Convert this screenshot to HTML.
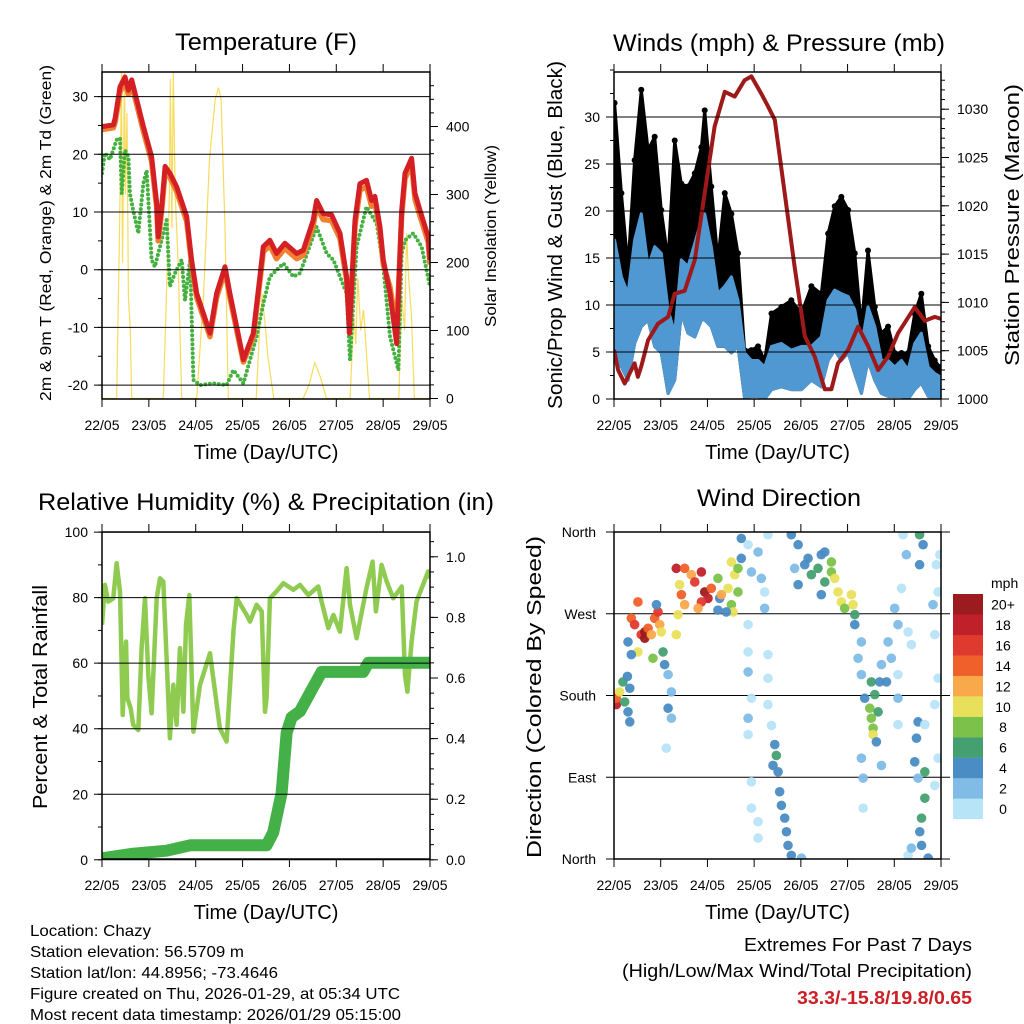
<!DOCTYPE html>
<html><head><meta charset="utf-8"><title>Chazy station summary</title>
<style>
html,body{margin:0;padding:0;background:#fff;}
svg{display:block;font-family:"Liberation Sans",Arial,sans-serif;}
</style></head>
<body>
<svg id="fig" width="1024" height="1024" viewBox="0 0 1024 1024" xmlns="http://www.w3.org/2000/svg">
<defs>
<clipPath id="c1"><rect x="102" y="72" width="328" height="327"/></clipPath>
<clipPath id="c2"><rect x="614" y="72" width="327" height="327"/></clipPath>
<clipPath id="c3"><rect x="102" y="532" width="328" height="327"/></clipPath>
<clipPath id="c4"><rect x="614" y="532" width="327" height="327"/></clipPath>
</defs>
<g id="layer"></g>
</svg>
<script>
// ---- Temperature panel data (hours since 22/05 00 UTC) ----
var tempTime=[0,5.8,6.7,9.2,11.8,13.5,15.2,17.8,21.2,25.4,28,28.8,30.6,32.3,34.8,38.2,43.4,45.9,48.5,55.3,58.7,63,65.5,72.4,77.5,80.9,82.6,86,89.4,93.7,99.7,103.1,108.2,109.9,113.3,117.6,121.9,125.3,126.7,129.6,132.1,135.5,138.1,139.8,142.4,144.1,147.5,150.9,153.5,155.2,158.6,160.3,162.9,167.1,168];
var temp2m=[24.8,25.1,26.2,31.7,33.4,31.1,32.9,29.4,24.8,19.6,11.5,5.7,10.9,17.9,16.7,14.4,9.2,1.7,-4.1,-11,-4.1,0.5,-4.1,-15.6,-11,-1.2,4,5.1,2.8,4.6,2.8,3.4,8.6,12,9.7,9.5,6.3,-1.2,-11,8.6,14.9,15.5,12,12.7,7.4,1.7,-4.1,-12.8,10.3,16.7,19.3,13.2,10.3,5.7,1.7];
var temp9m=[24.3,24.6,25.5,30.8,32.6,30.4,32.0,28.6,24.0,18.8,10.8,5.0,10.2,17.0,16.0,13.6,8.4,1.0,-4.8,-11.6,-4.8,-0.2,-4.8,-16.0,-11.6,-2.0,3.1,4.2,1.9,3.7,1.9,2.5,7.6,11.0,8.7,8.5,5.4,-1.8,-9.5,7.6,13.8,14.4,11.0,11.8,6.5,0.9,-3.0,-10.5,9.4,15.8,18.4,12.2,9.3,4.8,0.9];
var dewTime=[0,1.5,4.1,7.5,9.2,10.1,11.8,13.5,14.3,16,18.6,21.2,22.9,25.4,27.1,29.7,33.1,34.8,37.4,40.8,42.5,45.1,46.8,50.2,57,63.8,67.3,72.4,79.2,82.6,86,92.9,98,101.4,109.9,115.1,118.5,125.3,127,130.4,135.5,140.7,144.1,147.5,151.8,153.5,155.2,159.4,163.7,168];
var dewVal=[16.7,20.2,19.1,22.5,22.8,13.2,20.7,19.6,13.2,10.3,6.3,15,17.2,1.7,0.5,4,8.6,-2.9,-0.6,1.7,-5.3,1.7,-19.1,-20,-19.7,-20,-17.4,-19.7,-11.6,-5.9,-1.2,1.1,-1.2,-0.6,7.4,2.8,1.7,-4.1,-15.6,4,10.9,8,0.5,-11.6,-17.4,2.8,5.1,6.3,4,-2.9];
var solarTime=[0,7.5,9,10,10.5,11.5,12,12.8,13.5,14.5,15.2,31.4,33,34.5,35,35.8,36.5,37.5,39,40.8,48.5,52,55,58,59.6,61,63,64.7,79,80.5,82,83.5,85,88,103,106,109,112,115,127,129,130,131,132.5,134,137,152,153.5,155,156,157,158.5,160,168];
var solarVal=[0,0,250,480,200,480,300,420,150,100,0,0,150,300,470,250,480,300,200,0,0,150,350,440,457,440,250,0,0,90,154,110,60,0,0,20,53,30,0,0,120,80,178,100,130,0,0,150,100,243,180,120,0,0];
// ---- Winds panel data ----
var windTime=[0.3,3.8,7.2,10.6,14,17.5,20.9,24.3,27.8,31.2,34.6,38,41.5,44.9,46.6,50,53.4,56.9,60.3,63.7,67.1,70.6,74,77.4,80.9,86,91.1,96.3,101.4,106.5,110,113.4,116.8,120.3,123.7,127.1,130.5,134,137.4,140.8,144.2,147.7,151.1,154.5,157.9,161.4,164.8,167.4];
var windLo=[4.1,3.4,2,5.9,7.7,8.4,5.6,4.9,0.6,2,9.1,7,6.6,8.4,8.4,7.7,5.6,5.6,4.9,5.6,0.1,0.3,0.3,0,1,1.3,1,1,2,1.3,4.1,5.2,4.1,4.9,2.7,0.6,4.1,2,0.6,0.3,0.3,0.3,0,1,1.7,0.3,0,0];
var windHi=[16.9,13,11.2,16.9,19.7,14.1,16.2,15.5,9.5,7,14.8,14.1,16.6,19,19.7,16.2,11.2,12,13,10.5,4.9,4.1,4.1,3.4,5.6,5.9,5.2,5.6,5.6,6.6,10.5,11.6,11.2,10.9,9.5,5.6,9.8,7.7,4.1,4.1,3.4,4.1,3.1,5.9,7,3.4,2.7,2.4];
var gustHi=[31.5,21.9,14.1,25.4,32.9,26.5,27.9,20.1,14.8,27.5,22.9,22.6,24,26.8,30.7,22.6,14.8,21.9,19.7,15.5,5.2,5.2,5.6,4.1,9.1,9.8,10.5,9.1,12,11.2,17.6,20.5,21.5,20.1,15.5,7.7,15.8,9.8,7,7.7,4.9,4.9,4.9,9.1,11.2,5.6,4.1,3.4];
var presTime=[0,2.1,5.5,8.9,10.6,12.3,14,17.5,22.6,27.8,31.2,36.3,41.5,46.6,51.7,56.9,62,67.1,70.6,75.7,79.1,82.6,87.7,92.8,98,103.1,108.3,111.7,115.1,120.3,125.4,130.5,135.7,140.8,145.9,154.5,159.7,164.8,168];
var presVal=[1005.1,1003,1001.6,1003,1003.7,1002.3,1003.4,1006.1,1007.8,1008.5,1010.9,1011.2,1014.4,1021.3,1028.2,1031.8,1031.3,1033,1033.4,1031.6,1030.3,1028.9,1021.3,1013.7,1006.5,1004.4,1001,1001,1003.7,1005.1,1007.5,1005.5,1003,1004.4,1006.8,1009.5,1008.1,1008.5,1008.3];
// ---- RH / precipitation data ----
var rhTime=[0,1.5,3.2,5.8,7.5,9.2,10.6,12.3,13,14.7,16,18.6,20.3,22,23.7,25.4,28,29.7,31.4,33.1,34.8,36.5,38.2,39.9,41.7,43,44.7,46.8,50.2,55.3,60.4,63.8,67.3,69,74.1,75.8,79.2,81.8,83.5,84.3,86,89.4,92.9,98,101.4,105.7,110.8,112.5,115.9,118.5,121.9,125.3,127,130.4,135.5,138.6,140.3,143.2,145.8,149.2,153.5,155.2,156.4,158.6,161.1,167.1,168];
var rhVal=[71.7,83.9,78.8,79.8,90.5,81.9,44.2,66.6,49.3,46.2,41.2,39.6,64.6,79.8,56.4,44.7,79.8,85.9,84.9,61.5,37.1,53.4,41.2,64.6,45.2,71.7,80.8,39.1,53.4,63,40.1,36.1,69.6,79.8,74.7,72.7,77.8,75.8,45.2,49.3,79.8,81.9,84.4,82.4,83.9,80.8,83.4,78.8,70.7,74.7,69.6,89,77.8,67.6,82.9,91,75.8,90,84.9,79.8,83.4,56.4,51.3,66.6,78.8,88,85.9];
var rainTime=[0,16,33.1,45.1,84.3,87.7,92,94.6,97.1,101.4,106.5,112.5,115.1,133.8,136.4,168];
var rainVal=[0.005,0.02,0.03,0.048,0.048,0.09,0.22,0.42,0.47,0.49,0.55,0.62,0.62,0.62,0.65,0.65];
// ---- Wind direction data: time (h), direction (deg), speed (mph) ----
var dirTime=[1.2,1.2,2.9,4.6,5.5,7.2,8.1,8.1,6.9,8.9,10.6,12.3,14,15.8,15.8,17.5,19.2,20.9,22.6,23.5,24.3,12.3,20,25.2,7.2,21.8,8.9,26,27.8,29.5,27.8,29.5,26.9,32,36.3,33.7,34.6,36.3,32.9,32,39.7,41.5,44.9,46.6,48.3,44.9,43.2,50,53.4,54.3,55.2,58.6,60.3,62,60.3,63.7,63.7,61.2,57.7,53.4,65.4,65.4,68.9,70.6,74,75.7,79.1,77.4,68.9,68.9,68.9,70.6,68.9,68.9,70.6,70.6,74,79.1,79.1,79.1,80.9,77.4,74,82.6,83.4,84.3,85.1,86,87.7,88.6,89.4,91.1,96.3,81.7,91.1,94.6,92.8,98,99.7,101.4,104.8,106.5,108.3,108.3,111.7,111.7,113.4,106.5,94.6,115.1,116.8,118.5,122,122.8,123.7,123.7,127.1,125.4,127.1,128.8,132.2,134,131.4,132.2,133.1,133.1,134.8,135.7,136.5,137.4,140,142.5,144.2,140.8,145.9,127.1,128,128,137.4,145.9,145.9,148.5,150.2,157,158.8,157,147.7,151.1,152.8,156.2,155.4,154.5,156.2,159.7,159.7,158,157.1,158,161.4,164.8,166.5,164.8,166.5,164.8,166.5,165.6,167.4,163.9,151.1,159.7,145.9,152.8];
var dirDeg=[170,177,184,195,173,162,151,188,201,265,258,283,247,243,250,254,247,265,272,258,250,228,221,228,239,280,225,214,203,184,166,155,122,320,320,302,291,280,269,247,313,305,316,294,287,283,276,298,309,287,291,298,280,313,327,320,294,272,272,274,353,331,346,316,338,309,357,276,258,228,206,177,155,137,85,56,41,225,199,170,147,294,23,126,114,96,74,59,45,30,15,4,1,103,357,346,320,324,331,313,320,335,305,338,327,316,309,291,302,294,283,276,291,280,269,258,239,221,203,177,195,181,166,155,144,137,129,162,195,214,195,221,276,239,258,111,89,56,103,203,177,357,335,357,346,324,298,250,236,151,133,107,89,96,67,45,30,15,1,81,111,170,199,247,294,324,335,280,4,148,148,12];
var dirSpeed=[18,14,10,6,6,4,4,4,4,14,16,14,16,20,20,14,12,14,16,12,10,10,8,6,4,4,4,4,2,2,4,2,1,18,14,10,14,12,10,10,12,16,18,20,18,16,12,14,8,4,12,10,8,10,10,8,8,10,4,4,4,4,1,2,2,2,1,2,1,1,2,1,2,1,1,1,1,1,1,1,1,1,1,4,6,4,4,4,4,4,4,4,2,4,4,4,2,4,4,6,6,4,6,4,8,8,10,4,4,10,10,8,10,10,6,4,2,2,2,4,6,6,8,8,8,10,4,6,4,2,4,2,2,2,2,2,2,1,2,1,2,1,2,6,4,4,1,1,1,4,4,4,2,6,6,6,4,4,4,1,1,1,1,1,1,1,1,2,1,1,1,2];
var speedColors=["#b8e4f8","#80bce6","#4a8cc4","#44a070","#7cc24a","#e8e05a","#f9a84a","#f0602a","#e03a2e","#c0202a","#9b1b1e"];
var speedLabels=["0","2","4","6","8","10","12","14","16","18","20+"];
var dayLabels=["22/05","23/05","24/05","25/05","26/05","27/05","28/05","29/05"];

var NS="http://www.w3.org/2000/svg";
var layer=document.getElementById("layer");
function mk(tag,attrs,parent){var e=document.createElementNS(NS,tag);for(var k in attrs){e.setAttribute(k,attrs[k]);}(parent||layer).appendChild(e);return e;}
function txt(s,x,y,size,anchor,extra){var e=mk("text",{x:x,y:y,"font-size":size,"text-anchor":anchor||"start",fill:"#000"});if(extra){for(var k in extra)e.setAttribute(k,extra[k]);}e.textContent=s;return e;}

function P(x0,x1,y0,y1){return {x0:x0,x1:x1,y0:y0,y1:y1,sx:function(t){return x0+t/168*(x1-x0);}};}
var p1=P(102,430,72,399),p2=P(614,941,72,399),p3=P(102,430,532,859),p4=P(614,941,532,859);
function yTemp(v){return 269.7-v*5.77;}
function ySolar(v){return 398.5-v*0.68;}
function yWind(v){return 399-v*9.4;}
function yPres(v){return 399-(v-1000)*9.66;}
function yRH(v){return 859.8-v*3.277;}
function yRain(v){return 859.8-v*303;}
function yDir(v){return 859-v*0.9083;}

function pts(p,ts,vs,fy){var a=[];for(var i=0;i<ts.length;i++)a.push(p.sx(ts[i]).toFixed(1)+","+fy(vs[i]).toFixed(1));return a.join(" ");}

function frame(p,nm){
  var g=mk("g",{});
  
  
  mk("rect",{x:p.x0,y:p.y0,width:p.x1-p.x0,height:p.y1-p.y0,fill:"none",stroke:"#000","stroke-width":1.5},g);
  for(var d=0;d<=7;d++){
    var x=p.sx(d*24);
    mk("line",{x1:x,x2:x,y1:p.y0,y2:p.y0-8,stroke:"#000","stroke-width":1},g);
    mk("line",{x1:x,x2:x,y1:p.y1,y2:p.y1+8,stroke:"#000","stroke-width":1},g);
    var t=txt(dayLabels[d],x,p.y1+31,14,"middle");
    
    
  }
  var tt=txt("Time (Day/UTC)",(p.x0+p.x1)/2,p.y1+60,20,"middle");
  
  
}
function leftAxis(p,vals,labels,fy,minor,grid){
  for(var i=0;i<vals.length;i++){
    var y=fy(vals[i]);
    if(grid){var gl=mk("line",{x1:p.x0-8,x2:p.x1,y1:y,y2:y,stroke:"#000","stroke-width":1});}
    else mk("line",{x1:p.x0-8,x2:p.x0,y1:y,y2:y,stroke:"#000"});
    var t=txt(labels[i],p.x0-14,y+5,14,"end");
    
    
  }
  for(var j=0;j<minor.length;j++){var yy=fy(minor[j]);mk("line",{x1:p.x0-4,x2:p.x0,y1:yy,y2:yy,stroke:"#000"});}
}
function rightAxis(p,vals,labels,fy,minor){
  for(var i=0;i<vals.length;i++){
    var y=fy(vals[i]);
    mk("line",{x1:p.x1,x2:p.x1+8,y1:y,y2:y,stroke:"#000"});
    var t=txt(labels[i],p.x1+16,y+5,14,"start");
    
    
  }
  for(var j=0;j<minor.length;j++){var yy=fy(minor[j]);mk("line",{x1:p.x1,x2:p.x1+4,y1:yy,y2:yy,stroke:"#000"});}
}
function vtitle(s,x,yc,len,size,nm){
  var t=txt(s,0,0,size,"middle",{transform:"translate("+x+","+yc+") rotate(-90)",textLength:len,lengthAdjust:"spacingAndGlyphs"});
  
  
}
function title(s,xc,y,len,nm){
  var t=txt(s,xc,y,24,"middle",{textLength:len,lengthAdjust:"spacingAndGlyphs"});
  
  
}
function range(a,b,s){var r=[];for(var v=a;v<=b+1e-9;v+=s)r.push(+v.toFixed(4));return r;}

// ================= Panel 1: Temperature =================
title("Temperature (F)",266,50,182,"temperature-title");
var g1=mk("g",{"clip-path":"url(#c1)"});


var sl=mk("polyline",{points:pts(p1,solarTime,solarVal,ySolar),fill:"none",stroke:"#f7dc5c","stroke-width":1.2},g1);


var dl=mk("polyline",{points:pts(p1,dewTime,dewVal,yTemp),fill:"none",stroke:"#44b040","stroke-width":4,"stroke-linecap":"round","stroke-dasharray":"0 4.5"},g1);


var ol=mk("polyline",{points:pts(p1,tempTime,temp9m,yTemp),fill:"none",stroke:"#f08030","stroke-width":5.5,"stroke-linejoin":"round"},g1);


var rl=mk("polyline",{points:pts(p1,tempTime,temp2m,yTemp),fill:"none",stroke:"#d42024","stroke-width":5,"stroke-linejoin":"round"},g1);


leftAxis(p1,[-20,-10,0,10,20,30],["-20","-10","0","10","20","30"],yTemp,range(-20,30,5),true);
rightAxis(p1,[0,100,200,300,400],["0","100","200","300","400"],ySolar,range(0,460,20));
frame(p1,"temperature");
vtitle("2m & 9m T (Red, Orange) & 2m Td (Green)",51,233,336,16,"temperature-y-title");
vtitle("Solar Insolation (Yellow)",496,236,182,16,"solar-y-title");

// ================= Panel 2: Winds & Pressure =================
title("Winds (mph) & Pressure (mb)",779,51,332,"winds-title");
var g2=mk("g",{"clip-path":"url(#c2)"});


leftAxis(p2,[0,5,10,15,20,25,30],["0","5","10","15","20","25","30"],yWind,range(0,35,2.5),true);
var gTop=[],gBot=[];
for(var i=0;i<windTime.length;i++){gTop.push(p2.sx(windTime[i]).toFixed(1)+","+yWind(gustHi[i]).toFixed(1));gBot.unshift(p2.sx(windTime[i]).toFixed(1)+","+yWind(windLo[i]).toFixed(1));}
var gb=mk("polygon",{points:gTop.concat(gBot).join(" "),fill:"#000",stroke:"#000","stroke-width":3,"stroke-linejoin":"round"},g2);


for(var i=0;i<windTime.length;i++){
  var c=mk("circle",{cx:p2.sx(windTime[i]),cy:yWind(gustHi[i]),r:3,fill:"#000"},g2);
  
  
}
var wTop=[],wBot=[];
for(var i=0;i<windTime.length;i++){wTop.push(p2.sx(windTime[i]).toFixed(1)+","+yWind(windHi[i]).toFixed(1));wBot.unshift(p2.sx(windTime[i]).toFixed(1)+","+yWind(windLo[i]).toFixed(1));}
var wb=mk("polygon",{points:wTop.concat(wBot).join(" "),fill:"#4f98d2",stroke:"#4f98d2","stroke-width":3,"stroke-linejoin":"round"},g2);


var pl=mk("polyline",{points:pts(p2,presTime,presVal,yPres),fill:"none",stroke:"#9e1a1a","stroke-width":4,"stroke-linejoin":"round"},g2);


rightAxis(p2,[1000,1005,1010,1015,1020,1025,1030],["1000","1005","1010","1015","1020","1025","1030"],yPres,range(1000,1033,1));
frame(p2,"winds");
vtitle("Sonic/Prop Wind & Gust (Blue, Black)",562,235,348,20,"winds-y-title");
vtitle("Station Pressure (Maroon)",1019,225,282,20,"pressure-y-title");

// ================= Panel 3: RH & Precip =================
title("Relative Humidity (%) & Precipitation (in)",266,510,456,"humidity-title");
var g3=mk("g",{"clip-path":"url(#c3)"});


leftAxis(p3,[0,20,40,60,80,100],["0","20","40","60","80","100"],yRH,range(0,100,10),true);
var hl=mk("polyline",{points:pts(p3,rhTime,rhVal,yRH),fill:"none",stroke:"#8fcb50","stroke-width":4.5,"stroke-linejoin":"round"},g3);


var pr=mk("polyline",{points:pts(p3,rainTime,rainVal,yRain),fill:"none",stroke:"#44b048","stroke-width":12,"stroke-linejoin":"round","stroke-linecap":"round"},g3);


rightAxis(p3,[0,0.2,0.4,0.6,0.8,1.0],["0.0","0.2","0.4","0.6","0.8","1.0"],yRain,range(0,1.05,0.05));
frame(p3,"humidity");
vtitle("Percent & Total Rainfall",47,697,224,20,"humidity-y-title");

// ================= Panel 4: Wind Direction =================
title("Wind Direction",779,506,164,"wind-direction-title");
var dirVals=[0,90,180,270,360],dirNames=["North","East","South","West","North"];
for(var i=0;i<dirVals.length;i++){
  var y=yDir(dirVals[i]);
  var gl=mk("line",{x1:606,x2:950,y1:y,y2:y,stroke:"#000","stroke-width":1});
  
  
  var t=txt(dirNames[i],596,y+5,14,"end");
  
  
}
var g4=mk("g",{"clip-path":"url(#c4)"});


for(var i=0;i<dirTime.length;i++){
  var bin=Math.min(10,Math.floor(dirSpeed[i]/2));
  var c=mk("circle",{cx:p4.sx(dirTime[i]),cy:yDir(dirDeg[i]),r:4.8,fill:speedColors[bin],"fill-opacity":0.95},g4);
  
  
}
frame(p4,"wind-direction");
vtitle("Direction (Colored By Speed)",541,697,322,20,"direction-y-title");
var cb=mk("g",{});


var mph=txt("mph",991,588,14,"start");


for(var k=0;k<11;k++){
  var y0=594+(10-k)*20.45;
  var r=mk("rect",{x:953,y:y0,width:30,height:20.6,fill:speedColors[k]},cb);
  
  
  var t=txt(speedLabels[k],1003,y0+15.5,14,"middle");
  
  
}

// ================= Footer text =================
var info=["Location: Chazy","Station elevation: 56.5709 m","Station lat/lon: 44.8956; -73.4646","Figure created on Thu, 2026-01-29, at 05:34 UTC","Most recent data timestamp: 2026/01/29 05:15:00"];
var infoLen=[121,214,248,370,371];
var infoY=[936,957,978,999,1020];
for(var i=0;i<info.length;i++){
  var t=txt(info[i],30,infoY[i],16,"start",{textLength:infoLen[i],lengthAdjust:"spacingAndGlyphs"});
  
  
}
var e1=txt("Extremes For Past 7 Days",972,951,18,"end",{textLength:228,lengthAdjust:"spacingAndGlyphs"});


var e2=txt("(High/Low/Max Wind/Total Precipitation)",972,977,18,"end",{textLength:350,lengthAdjust:"spacingAndGlyphs"});


var e3=txt("33.3/-15.8/19.8/0.65",972,1004,18,"end",{textLength:175,lengthAdjust:"spacingAndGlyphs","font-weight":"bold",fill:"#cc2027"});


</script>
</body></html>
